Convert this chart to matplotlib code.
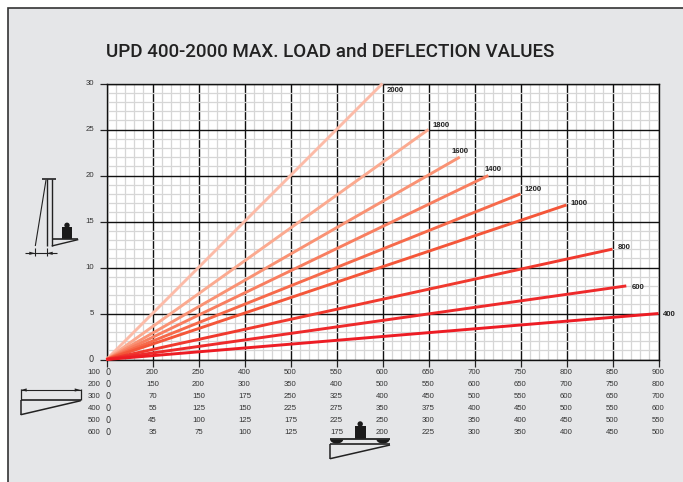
import numpy as np
import matplotlib
matplotlib.use('Agg')
import matplotlib.pyplot as plt
from matplotlib.patches import Circle, Rectangle

# series: capacity label, end point of the line (x in major divisions, y in mm)
capacities = ['2000', '1800', '1600', '1400', '1200', '1000', '800', '600', '400']
end_x = [6.0, 7.0, 7.68, 8.3, 9.0, 10.0, 11.0, 11.3, 12.0]
end_y = [30, 25, 22, 20, 18, 16.8, 12, 8, 5]
line_colors = ['#fcbba8', '#fbaa90', '#f99274', '#f87e60', '#f66a4b',
               '#f45639', '#f0392e', '#ee2a2b', '#ed1c24']
# label offset from line end, in points
label_dx = [3, 3, -6, -3, 3, 3, 4, 4, 3]
label_dy = [-5, 3, 4, 4, 3, 1, 1, -1, -1]

y_ticks = [0, 5, 10, 15, 20, 25, 30]

# load table below the x axis, one row per lift height
row_names = ['100', '200', '300', '400', '500', '600']
row_100 = [0, 200, 250, 400, 500, 550, 600, 650, 700, 750, 800, 850, 900]
row_200 = [0, 150, 200, 300, 350, 400, 500, 550, 600, 650, 700, 750, 800]
row_300 = [0, 70, 150, 175, 250, 325, 400, 450, 500, 550, 600, 650, 700]
row_400 = [0, 55, 125, 150, 225, 275, 350, 375, 400, 450, 500, 550, 600]
row_500 = [0, 45, 100, 125, 175, 225, 250, 300, 350, 400, 450, 500, 550]
row_600 = [0, 35, 75, 100, 125, 175, 200, 225, 300, 350, 400, 450, 500]
rows = [row_100, row_200, row_300, row_400, row_500, row_600]

TITLE = 'UPD 400-2000 MAX. LOAD and DEFLECTION VALUES'
SMALL = 'Liberation Sans'
ZERO = 'DejaVu Sans'
BG = '#e5e6e8'
INK = '#222222'
W, H = 683, 482

fig = plt.figure(figsize=(W / 100, H / 100), dpi=100, facecolor='white')

# ---- background panel and drawings, in pixel coordinates
deco = fig.add_axes([0, 0, 1, 1], zorder=0)
deco.set_xlim(0, W)
deco.set_ylim(H, 0)
deco.axis('off')
deco.add_patch(Rectangle((7.5, 8), W, H, fc=BG, ec='#333333', lw=1.2))
deco.text(106, 57, TITLE, family='Roboto', weight='medium', fontsize=13.5,
          color='#222222', ha='left', va='baseline')


def seg(x0, y0, x1, y1, lw=1.0):
    deco.plot([x0, x1], [y0, y1], color=INK, lw=lw, solid_capstyle='butt')


def arrow(x, y, direction):
    deco.fill([x, x + direction * 6, x + direction * 6],
              [y, y - 1.6, y + 1.6], color=INK, lw=0)


def weight(x0, x1, y0, y1):
    cx = (x0 + x1) / 2
    deco.add_patch(Rectangle((x0, y0), x1 - x0, y1 - y0, fc='#1a1a1a', ec='none'))
    deco.add_patch(Circle((cx, y0 - 2), 2.7, fc='#1a1a1a', ec='none'))


# mast with fork, left of the y axis
seg(42.3, 179, 55.7, 179, 1.2)
seg(46.7, 179, 46.7, 246)
seg(51.7, 179, 51.7, 246)
seg(46, 180, 35.3, 246, 0.8)
seg(51.7, 239.3, 78.3, 239.3, 1.2)
seg(51.7, 246, 78.3, 239.6, 1.0)
weight(61.7, 72.3, 227.3, 239)
seg(35.3, 248, 35.3, 256, 0.8)
seg(46.7, 248, 46.7, 256, 0.8)
seg(25, 253.3, 56.7, 253.3, 0.8)
arrow(35.3, 253.3, -1)
arrow(46.7, 253.3, 1)

# fork length, left of the table
seg(20.7, 389, 20.7, 400, 0.9)
seg(80.7, 389, 80.7, 400, 0.9)
seg(20.7, 390, 80.7, 390, 0.8)
arrow(20.7, 390, 1)
arrow(80.7, 390, -1)
seg(20.7, 400, 80.7, 400, 1.2)
seg(20.7, 400, 20.7, 414.7, 1.1)
seg(20.7, 414.7, 80.7, 400.7, 1.1)

# loaded fork, under the table
seg(330, 439.3, 390, 439.3, 1.3)
seg(330, 444, 390, 444, 1.2)
seg(330, 444, 330, 458.7, 1.1)
seg(330, 458.7, 390, 445, 1.1)
t = np.linspace(0, np.pi, 30)
for cx in (336.7, 383):
    deco.fill(cx + 6.5 * np.cos(t), 439.5 + 4 * np.sin(t), color='#1a1a1a', lw=0)
weight(354.7, 365.7, 426, 438.7)

# ---- chart
ax = fig.add_axes([106.5 / W, (H - 359.5) / H, 552 / W, 276 / H], zorder=1)
ax.set_facecolor('white')
ax.set_xlim(0, 12)
ax.set_ylim(0, 30)
ax.set_xticks(range(13))
ax.set_xticks(np.arange(0, 12.01, 0.2), minor=True)
ax.set_yticks(y_ticks)
ax.set_yticks(range(31), minor=True)
ax.grid(which='major', color='#111111', lw=1.0)
ax.grid(which='minor', color='#d6d6d6', lw=0.9)
ax.set_axisbelow(True)
for s in ax.spines.values():
    s.set_color('#111111')
    s.set_linewidth(1.0)
ax.tick_params(which='minor', length=0)
ax.tick_params(which='major', length=5, width=0.9, color='#222222')
ax.set_xticklabels([])
ax.set_yticklabels([])

for cap, x, y, c, dx, dy in zip(capacities, end_x, end_y, line_colors, label_dx, label_dy):
    ax.plot([0, x], [0, y], color=c, lw=2.1, solid_capstyle='butt', zorder=3, clip_on=False)
    ax.annotate(cap, (x, y), xytext=(dx, dy), textcoords='offset points',
                family=SMALL, fontsize=5.6, weight='bold', color='#222222',
                ha='left', va='center', zorder=4, annotation_clip=False)

for v in y_ticks:
    ax.annotate(str(v), (0, v), xytext=(-9, 0), textcoords='offset points',
                family=SMALL if v else ZERO, fontsize=5.6 if v else 6,
                color='#333333', ha='right', va='center', annotation_clip=False)

# load table, rows 12 px apart
for r, (name, row) in enumerate(zip(row_names, rows)):
    off = -(12.7 + 12 * r) * 0.72
    ax.annotate(name, (0, 0), xytext=(-4.5, off), textcoords='offset points',
                family=SMALL, fontsize=5.6, color='#333333',
                ha='right', va='center', annotation_clip=False)
    for i, val in enumerate(row):
        ax.annotate(str(val), (i, 0), xytext=(1 if i == 0 else 0, off),
                    textcoords='offset points', family=ZERO if i == 0 else SMALL,
                    fontsize=6 if i == 0 else 5.6,
                    color='#333333', ha='center', va='center', annotation_clip=False)

fig.savefig('out.png', dpi=100, facecolor='white')
plt.close(fig)
